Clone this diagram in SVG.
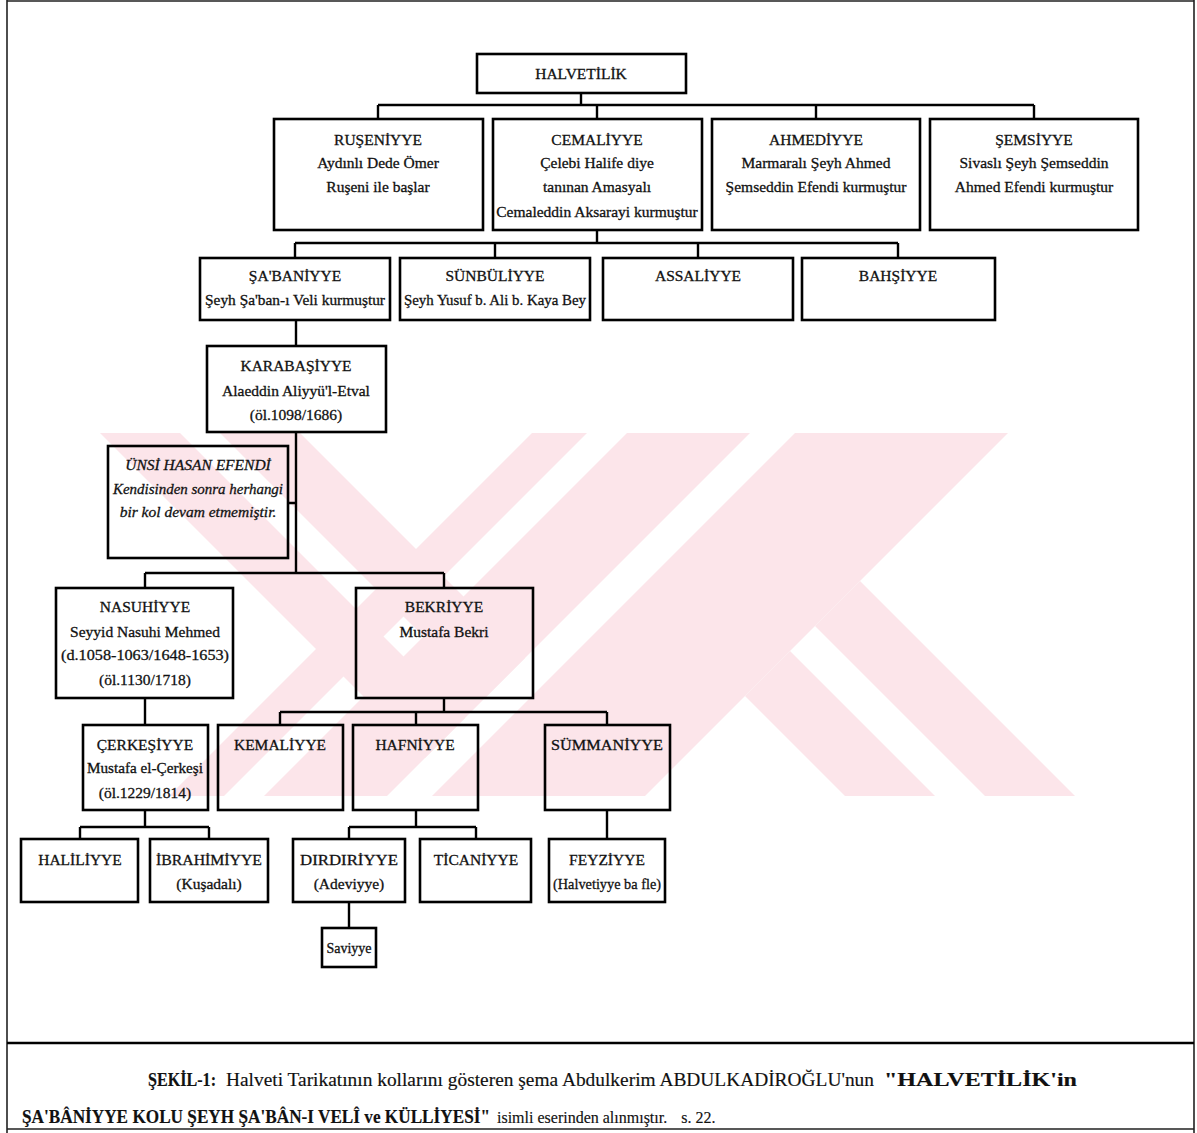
<svg xmlns="http://www.w3.org/2000/svg" width="1197" height="1133" viewBox="0 0 1197 1133">
<defs>
<style>
.box{fill:none;stroke:#000;stroke-width:2.6}
.c{fill:none;stroke:#000;stroke-width:2.4}
.f{fill:none;stroke:#222;stroke-width:1.6}
text{font-family:"Liberation Serif","Times New Roman",serif;font-size:15.5px;fill:#111;stroke:#111;stroke-width:0.3;text-anchor:middle}
.it{font-style:italic}
.cap{font-size:18px;text-anchor:start;stroke-width:0.15}
.b{font-weight:bold}
.wm{fill:#fce5ea}
</style>
<clipPath id="wmclip"><rect x="0" y="433" width="1197" height="363"/></clipPath>
<clipPath id="xclip"><polygon points="0,433 750,433 387,796 0,796"/></clipPath>
</defs>
<rect width="1197" height="1133" fill="#fff"/>
<g id="watermark" clip-path="url(#wmclip)">
<g clip-path="url(#xclip)">
<polygon class="wm" points="100,433 180,433 543,796 463,796"/>
<polygon class="wm" points="220,433 300,433 663,796 583,796"/>
</g>
<polygon class="wm" points="627,433 750,433 387,796 264,796"/>
<polygon class="wm" points="532,433 587,433 224,796 169,796"/>
<polygon class="wm" points="795,433 1008,433 645,796 432,796"/>
<polygon class="wm" points="860,581 1075,796 985,796 815,626"/>
<polygon class="wm" points="790,651 935,796 845,796 745,696"/>
</g>
<g id="frame">
<path class="f" d="M7,0V1133M7,1H1194M1194,0V1133M7,1129H1194"/>
<path class="c" d="M7,1043H1194"/>
</g>
<g id="connectors">
<path class="c" d="M581,93V105M378,105H1034M378,105V119M597,105V119M816,105V119M1034,105V119"/>
<path class="c" d="M597,230V243M295,243H898M295,243V258M495,243V258M698,243V258M898,243V258"/>
<path class="c" d="M296,320V346M296,432V573M288,503H296M145,573H444M145,573V588M444,573V588"/>
<path class="c" d="M145,698V725M444,698V712M280,712H607M280,712V725M416,712V725M607,712V725"/>
<path class="c" d="M145,810V827M80,827H209M80,827V839M209,827V839M416,810V827M349,827H476M349,827V839M476,827V839M607,810V839M349,902V928"/>
</g>
<g id="n-halvetilik"><rect class="box" x="477" y="54" width="209" height="39"/><text x="581" y="79">HALVETİLİK</text></g>
<g id="n-ruseniyye"><rect class="box" x="274" y="119" width="209" height="111"/><text x="378" y="145">RUŞENİYYE</text><text x="378" y="168">Aydınlı Dede Ömer</text><text x="378" y="192">Ruşeni ile başlar</text></g>
<g id="n-cemaliyye"><rect class="box" x="493" y="119" width="209" height="111"/><text x="597" y="145">CEMALİYYE</text><text x="597" y="168">Çelebi Halife diye</text><text x="597" y="192">tanınan Amasyalı</text><text x="597" y="217">Cemaleddin Aksarayi kurmuştur</text></g>
<g id="n-ahmediyye"><rect class="box" x="712" y="119" width="208" height="111"/><text x="816" y="145">AHMEDİYYE</text><text x="816" y="168">Marmaralı Şeyh Ahmed</text><text x="816" y="192">Şemseddin Efendi kurmuştur</text></g>
<g id="n-semsiyye"><rect class="box" x="930" y="119" width="208" height="111"/><text x="1034" y="145">ŞEMSİYYE</text><text x="1034" y="168">Sivaslı Şeyh Şemseddin</text><text x="1034" y="192">Ahmed Efendi kurmuştur</text></g>
<g id="n-sabaniyye"><rect class="box" x="200" y="258" width="190" height="62"/><text x="295" y="281">ŞA'BANİYYE</text><text x="295" y="305" textLength="180" lengthAdjust="spacingAndGlyphs">Şeyh Şa'ban-ı Veli kurmuştur</text></g>
<g id="n-sunbuliyye"><rect class="box" x="400" y="258" width="190" height="62"/><text x="495" y="281">SÜNBÜLİYYE</text><text x="495" y="305" textLength="182" lengthAdjust="spacingAndGlyphs">Şeyh Yusuf b. Ali b. Kaya Bey</text></g>
<g id="n-assaliyye"><rect class="box" x="603" y="258" width="190" height="62"/><text x="698" y="281">ASSALİYYE</text></g>
<g id="n-bahsiyye"><rect class="box" x="802" y="258" width="193" height="62"/><text x="898" y="281">BAHŞİYYE</text></g>
<g id="n-karabasiyye"><rect class="box" x="207" y="346" width="179" height="86"/><text x="296" y="371">KARABAŞİYYE</text><text x="296" y="396">Alaeddin Aliyyü'l-Etval</text><text x="296" y="420">(öl.1098/1686)</text></g>
<g id="n-unsi"><rect class="box" x="108" y="446" width="180" height="112"/><text class="it" x="198" y="470">ÜNSİ HASAN EFENDİ</text><text class="it" x="198" y="494" textLength="170" lengthAdjust="spacingAndGlyphs">Kendisinden sonra herhangi</text><text class="it" x="198" y="517">bir kol devam etmemiştir.</text></g>
<g id="n-nasuhiyye"><rect class="box" x="56" y="588" width="177" height="110"/><text x="145" y="612">NASUHİYYE</text><text x="145" y="637">Seyyid Nasuhi Mehmed</text><text x="145" y="660" textLength="168" lengthAdjust="spacingAndGlyphs">(d.1058-1063/1648-1653)</text><text x="145" y="685">(öl.1130/1718)</text></g>
<g id="n-bekriyye"><rect class="box" x="356" y="588" width="177" height="110"/><text x="444" y="612">BEKRİYYE</text><text x="444" y="637">Mustafa Bekri</text></g>
<g id="n-cerkesiyye"><rect class="box" x="83" y="725" width="125" height="85"/><text x="145" y="750">ÇERKEŞİYYE</text><text x="145" y="773" textLength="116" lengthAdjust="spacingAndGlyphs">Mustafa el-Çerkeşi</text><text x="145" y="798">(öl.1229/1814)</text></g>
<g id="n-kemaliyye"><rect class="box" x="218" y="725" width="125" height="85"/><text x="280" y="750">KEMALİYYE</text></g>
<g id="n-hafniyye"><rect class="box" x="353" y="725" width="125" height="85"/><text x="415" y="750">HAFNİYYE</text></g>
<g id="n-summaniyye"><rect class="box" x="545" y="725" width="125" height="85"/><text x="607" y="750" textLength="112" lengthAdjust="spacingAndGlyphs">SÜMMANİYYE</text></g>
<g id="n-haliliyye"><rect class="box" x="21" y="839" width="117" height="63"/><text x="80" y="865">HALİLİYYE</text></g>
<g id="n-ibrahimiyye"><rect class="box" x="150" y="839" width="118" height="63"/><text x="209" y="865" textLength="106" lengthAdjust="spacingAndGlyphs">İBRAHİMİYYE</text><text x="209" y="889">(Kuşadalı)</text></g>
<g id="n-dirdiriyye"><rect class="box" x="293" y="839" width="112" height="63"/><text x="349" y="865" textLength="98" lengthAdjust="spacingAndGlyphs">DIRDIRİYYE</text><text x="349" y="889">(Adeviyye)</text></g>
<g id="n-ticaniyye"><rect class="box" x="420" y="839" width="111" height="63"/><text x="476" y="865">TİCANİYYE</text></g>
<g id="n-feyziyye"><rect class="box" x="549" y="839" width="116" height="63"/><text x="607" y="865">FEYZİYYE</text><text x="607" y="889" textLength="108" lengthAdjust="spacingAndGlyphs">(Halvetiyye ba fle)</text></g>
<g id="n-saviyye"><rect class="box" x="322" y="928" width="54" height="39"/><text x="349" y="953" style="font-size:14px">Saviyye</text></g>
<g id="caption">
<text class="cap b" x="148" y="1086" textLength="68" lengthAdjust="spacingAndGlyphs">ŞEKİL-1:</text>
<text class="cap" x="226" y="1086" textLength="648" lengthAdjust="spacingAndGlyphs">Halveti Tarikatının kollarını gösteren şema Abdulkerim ABDULKADİROĞLU'nun</text>
<text class="cap b" x="884" y="1086" style="font-size:19px" textLength="193" lengthAdjust="spacingAndGlyphs">"HALVETİLİK'in</text>
<text class="cap b" x="22" y="1123" textLength="468" lengthAdjust="spacingAndGlyphs">ŞA'BÂNİYYE KOLU ŞEYH ŞA'BÂN-I VELÎ ve KÜLLİYESİ"</text>
<text class="cap" x="497" y="1123" style="font-size:16px">isimli eserinden alınmıştır.<tspan dx="14">s. 22.</tspan></text>
</g>
</svg>
